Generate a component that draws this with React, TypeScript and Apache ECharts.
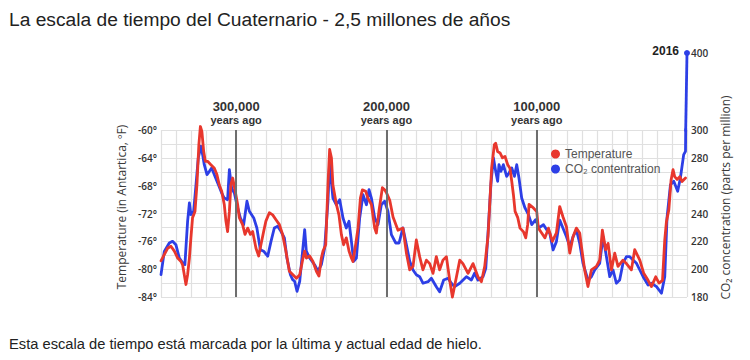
import React, { useEffect, useRef } from "react";
import * as echarts from "echarts";

const TITLE = "La escala de tiempo del Cuaternario - 2,5 millones de años";
const CAPTION = "Esta escala de tiempo está marcada por la última y actual edad de hielo.";
const TEMP_NAME = "Temperature";
const CO2_NAME = "CO₂ contentration";
const TEMP_AXIS_NAME = "Temperature (in Antartica, ºF)";
const CO2_AXIS_NAME = "CO₂ concentration (parts per million)";
const MARKER_YEARS = [300000, 200000, 100000];
const TEMP_TICKS = [-84, -80, -76, -72, -68, -64, -60];
const CO2_TICKS = [180, 200, 220, 240, 260, 280, 300];
const CO2_TOP_TICK = 400;
const LATEST_LABEL = "2016";

// thousands of years relative to present (negative = ago), temperature in °F
const tempKyr = [
  -350.0, -345.6, -343.4, -341.1, -338.9, -336.7, -335.6, -333.4, -332.3, -331.1,
  -330.1, -329.0, -327.4, -326.1, -324.8, -323.8, -322.8, -321.6, -320.5, -319.0,
  -316.8, -314.5, -312.8, -311.2, -309.6, -307.9, -306.8, -305.7, -304.5, -303.5,
  -302.3, -300.8, -299.0, -297.9, -295.7, -294.1, -292.3, -290.5, -289.0, -286.8,
  -285.0, -283.5, -281.7, -280.2, -277.9, -275.7, -273.5, -271.2, -269.1, -266.9,
  -264.6, -262.2, -259.9, -257.7, -255.5, -254.4, -253.3, -251.1, -248.9, -246.6,
  -244.9, -243.3, -242.2, -240.4, -238.9, -237.8, -236.6, -235.6, -233.3, -231.6,
  -230.0, -228.5, -226.7, -224.9, -223.3, -222.3, -220.5, -218.9, -217.3, -216.0,
  -213.8, -212.3, -210.0, -207.8, -206.7, -205.0, -202.7, -201.2, -200.0, -197.8,
  -195.6, -192.3, -189.0, -186.7, -184.5, -182.3, -180.1, -177.9, -175.7, -173.4,
  -171.2, -169.0, -166.8, -164.6, -162.4, -160.1, -157.9, -156.1, -153.4, -151.2,
  -149.1, -145.7, -142.4, -139.1, -136.8, -134.6, -132.4, -130.0, -128.2, -127.3,
  -126.0, -124.4, -122.8, -121.1, -119.3, -117.8, -116.6, -115.5, -114.4, -112.6,
  -111.1, -108.9, -107.3, -106.0, -105.1, -102.2, -100.0, -98.9, -96.7, -94.5,
  -92.2, -89.6, -86.9, -84.7, -82.5, -80.2, -78.0, -75.8, -73.6, -71.4,
  -70.2, -68.1, -65.9, -63.6, -60.3, -58.1, -56.3, -54.1, -52.5, -50.3,
  -48.1, -45.9, -42.6, -40.3, -37.0, -34.8, -31.4, -28.8, -25.9, -23.7,
  -20.8, -18.6, -16.3, -14.8, -13.7, -12.1, -10.6, -9.3, -8.2, -6.6,
  -4.8, -3.3, -1.0,
];
const tempF = [
  -78.8, -77.0, -76.7, -77.4, -78.4, -78.9, -79.4, -82.2, -80.8, -78.4,
  -75.5, -72.6, -71.7, -67.9, -62.1, -59.5, -60.2, -63.1, -64.5, -64.5,
  -65.0, -65.5, -66.4, -67.9, -68.8, -70.7, -73.1, -74.6, -71.7, -67.9,
  -66.9, -68.6, -70.7, -72.6, -73.6, -75.0, -74.1, -75.0, -74.6, -77.0,
  -78.1, -76.5, -74.6, -73.1, -71.9, -72.2, -72.9, -73.6, -75.0, -77.4,
  -80.3, -80.8, -81.3, -80.8, -78.4, -77.4, -78.4, -78.1, -78.9, -80.3,
  -81.0, -78.4, -77.4, -76.5, -67.9, -62.8, -64.0, -67.9, -70.7, -72.2,
  -75.0, -76.5, -75.5, -77.4, -78.4, -78.9, -76.5, -74.1, -69.8, -68.6,
  -68.8, -69.8, -70.7, -74.1, -74.8, -71.7, -68.3, -68.6, -69.0, -70.1,
  -72.5, -74.4, -74.1, -77.7, -80.1, -79.6, -75.8, -78.2, -80.1, -78.7,
  -79.2, -80.6, -78.2, -80.1, -78.7, -78.2, -81.6, -84.0, -81.1, -78.7,
  -79.2, -80.6, -79.2, -81.1, -81.8, -79.6, -75.3, -65.5, -62.1, -61.9,
  -63.1, -63.3, -64.0, -63.8, -65.0, -65.5, -67.4, -69.3, -71.7, -72.6,
  -74.1, -74.6, -75.5, -73.6, -70.7, -71.2, -71.7, -74.1, -74.8, -75.5,
  -74.1, -76.0, -74.8, -71.0, -72.5, -73.9, -77.7, -75.3, -74.1, -74.8,
  -76.8, -80.1, -82.5, -80.1, -79.6, -78.7, -74.4, -77.2, -76.3, -80.1,
  -77.7, -79.6, -78.7, -79.2, -80.1, -77.2, -78.7, -80.6, -81.6, -82.5,
  -81.1, -82.0, -81.6, -75.8, -73.2, -71.5, -67.2, -65.7, -66.7, -67.1,
  -66.7, -67.4, -66.9,
];

// thousands of years relative to present, CO2 in ppm
const co2Kyr = [
  -350.0, -347.8, -344.5, -342.3, -340.1, -337.8, -335.6, -334.1, -332.3, -331.1,
  -330.1, -328.3, -326.7, -325.2, -323.4, -322.3, -321.2, -319.4, -317.8, -316.3,
  -314.1, -311.8, -309.6, -307.9, -305.7, -304.5, -303.0, -301.2, -299.5, -297.2,
  -295.0, -292.8, -291.2, -288.3, -286.2, -283.9, -281.7, -279.0, -276.8, -274.6,
  -272.4, -270.2, -267.9, -266.2, -263.9, -262.4, -261.1, -259.5, -257.7, -254.4,
  -253.3, -251.1, -247.8, -245.6, -243.3, -241.1, -238.9, -237.8, -235.6, -233.3,
  -231.1, -228.9, -226.7, -224.9, -223.3, -221.8, -220.0, -217.8, -215.6, -213.3,
  -211.6, -210.0, -207.8, -205.6, -203.4, -201.2, -199.0, -196.7, -193.8, -191.6,
  -189.0, -186.7, -184.5, -182.3, -180.1, -177.9, -175.7, -172.3, -170.1, -166.8,
  -164.6, -161.9, -159.0, -156.8, -154.6, -151.2, -146.8, -143.5, -141.3, -139.1,
  -135.7, -133.9, -132.2, -130.5, -128.8, -127.3, -126.0, -125.1, -123.8, -122.2,
  -120.0, -118.4, -116.6, -114.8, -113.3, -111.8, -110.0, -107.8, -105.5, -103.3,
  -100.7, -98.5, -95.5, -92.7, -91.3, -89.1, -86.9, -84.7, -82.5, -80.2,
  -78.0, -75.8, -73.6, -71.4, -69.2, -65.9, -63.6, -61.4, -58.1, -55.9,
  -53.6, -51.4, -49.2, -47.0, -44.8, -42.6, -40.3, -38.1, -35.9, -33.6,
  -31.4, -29.2, -25.9, -23.7, -20.3, -17.0, -14.8, -13.3, -11.0, -8.8,
  -6.2, -4.4, -2.2, -1.0, 0,
];
const co2Ppm = [
  196.1, 212.8, 218.8, 220.0, 217.6, 208.0, 204.5, 203.3, 234.4, 247.6,
  239.2, 241.6, 260.7, 279.9, 288.3, 282.3, 275.1, 267.9, 270.3, 272.7,
  266.7, 260.7, 254.7, 251.1, 249.9, 271.5, 258.3, 254.7, 246.3, 236.8,
  232.0, 248.8, 241.6, 236.8, 229.6, 214.0, 212.9, 209.3, 220.0, 229.6,
  230.8, 227.2, 222.4, 208.0, 196.0, 192.5, 191.3, 184.1, 191.3, 228.4,
  212.9, 208.0, 203.2, 198.5, 203.2, 215.2, 248.8, 277.0, 251.1, 246.3,
  249.9, 236.8, 229.6, 234.4, 220.0, 205.7, 208.0, 236.8, 253.5, 246.3,
  257.1, 251.1, 236.8, 232.0, 246.3, 248.8, 241.6, 224.8, 218.8, 218.8,
  229.6, 217.6, 205.7, 199.4, 196.0, 194.6, 189.9, 191.0, 193.5, 187.4,
  183.8, 192.2, 193.5, 189.9, 187.4, 189.9, 194.6, 192.2, 197.1, 192.2,
  194.6, 200.6, 229.6, 260.7, 279.9, 270.3, 263.1, 275.1, 270.3, 275.1,
  266.7, 269.1, 272.7, 266.7, 275.1, 265.5, 251.1, 244.0, 239.2, 232.0,
  235.6, 229.6, 232.0, 227.2, 225.8, 213.8, 219.8, 235.3, 229.4, 223.3,
  216.2, 223.3, 228.2, 218.6, 204.2, 192.2, 194.6, 199.4, 204.2, 223.3,
  209.0, 194.6, 199.4, 189.9, 192.2, 204.2, 209.0, 209.0, 206.6, 204.2,
  199.4, 194.6, 188.6, 189.9, 187.4, 182.7, 194.6, 236.8, 260.7, 263.1,
  256.0, 265.5, 282.3, 284.7, 400,
];

// the modern spike, drawn on the compressed upper part of the CO2 scale
const recentKyr = [-1.0, 0];
const recentPpm = [284.7, 400];

const RED = "#e8372d";
const BLUE = "#2d3fe6";
const FONT = '"Open Sans", "DejaVu Sans", sans-serif';
const PAGE_FONT = '"Liberation Sans", Arial, sans-serif';

export default function App() {
  const ref = useRef<HTMLDivElement>(null);

  useEffect(() => {
    if (!ref.current) return;
    const chart = echarts.init(ref.current, null, { renderer: "svg" });

    const temp = tempKyr.map((k, i) => [k, tempF[i]]);
    const co2 = co2Kyr.map((k, i) => [k, co2Ppm[i]]);
    const recent = recentKyr.map((k, i) =>
      i === recentKyr.length - 1
        ? {
            value: [k, recentPpm[i]],
            symbol: "circle",
            symbolSize: 6,
            label: {
              show: true,
              position: "left",
              distance: 5,
              offset: [0, -2],
              formatter: LATEST_LABEL,
              fontFamily: PAGE_FONT,
              fontWeight: "bold",
              fontSize: 12,
              color: "#222",
            },
          }
        : { value: [k, recentPpm[i]], symbol: "none" }
    );

    const axisLabelStyle = {
      fontFamily: FONT,
      fontSize: 10,
      fontWeight: 600,
      color: "#333",
    };

    const option: any = {
      animation: false,
      backgroundColor: "#ffffff",
      title: [
        {
          text: TITLE,
          left: 4,
          top: 5,
          textStyle: { fontFamily: PAGE_FONT, fontSize: 19.2, fontWeight: "normal", color: "#222" },
        },
        {
          text: CAPTION,
          left: 4,
          top: 331,
          textStyle: { fontFamily: PAGE_FONT, fontSize: 14.7, fontWeight: "normal", color: "#222" },
        },
      ],
      legend: {
        data: [TEMP_NAME, CO2_NAME],
        orient: "vertical",
        left: 546,
        top: 143,
        icon: "circle",
        itemWidth: 9,
        itemHeight: 9,
        itemGap: 3,
        selectedMode: false,
        textStyle: { fontFamily: PAGE_FONT, fontSize: 12, color: "#555" },
      },
      grid: [
        { left: 161, right: 63, top: 130, height: 167 },
        { left: 161, right: 63, top: 53, height: 77 },
      ],
      xAxis: [
        {
          type: "value",
          gridIndex: 0,
          min: -350,
          max: 0,
          interval: 10,
          axisLine: { show: false },
          axisTick: { show: false },
          axisLabel: { show: false },
          splitLine: { show: true, lineStyle: { color: "#e0e0e0", width: 1.2 } },
        },
        { type: "value", gridIndex: 1, min: -350, max: 0, show: false },
      ],
      yAxis: [
        {
          type: "value",
          gridIndex: 0,
          position: "left",
          min: -84,
          max: -60,
          interval: 2,
          axisLine: { show: false },
          axisTick: { show: false },
          axisLabel: {
            ...axisLabelStyle,
            margin: 4,
            formatter: (v: number) => (TEMP_TICKS.includes(v) ? `${v}°` : ""),
          },
          splitLine: { show: true, lineStyle: { color: "#e0e0e0", width: 1.2 } },
          name: TEMP_AXIS_NAME,
          nameLocation: "middle",
          nameRotate: 90,
          nameGap: 24,
          nameTextStyle: {
            fontFamily: FONT,
            fontSize: 12,
            color: "#3a3a3a",
            padding: [0, 0, 0, 13],
          },
        },
        {
          type: "value",
          gridIndex: 0,
          position: "right",
          min: 180,
          max: 300,
          interval: 20,
          axisLine: { show: false },
          axisTick: { show: false },
          splitLine: { show: false },
          axisLabel: {
            ...axisLabelStyle,
            margin: 4,
            formatter: (v: number) => (CO2_TICKS.includes(v) ? String(v) : ""),
          },
          name: CO2_AXIS_NAME,
          nameLocation: "middle",
          nameRotate: 90,
          nameGap: 24,
          nameTextStyle: {
            fontFamily: FONT,
            fontSize: 12,
            color: "#3a3a3a",
            padding: [0, 0, 0, 32],
          },
        },
        {
          type: "value",
          gridIndex: 1,
          position: "right",
          min: 300,
          max: 400,
          interval: 100,
          axisLine: { show: false },
          axisTick: { show: false },
          splitLine: { show: false },
          axisLabel: {
            ...axisLabelStyle,
            margin: 4,
            formatter: (v: number) => (v === CO2_TOP_TICK ? String(v) : ""),
          },
        },
      ],
      series: [
        {
          name: CO2_NAME,
          type: "line",
          xAxisIndex: 0,
          yAxisIndex: 1,
          data: co2,
          clip: true,
          symbol: "none",
          showSymbol: false,
          lineStyle: { color: BLUE, width: 2.8, join: "round", cap: "round" },
          itemStyle: { color: BLUE },
          markLine: {
            silent: true,
            symbol: "none",
            lineStyle: { color: "#6e6e6e", width: 2, type: "solid" },
            label: {
              show: true,
              position: "end",
              distance: 4,
              formatter: (p: any) => `{a|${p.name}}\n{b|years ago}`,
              rich: {
                a: { fontFamily: PAGE_FONT, fontWeight: "bold", fontSize: 13, lineHeight: 14, color: "#333", align: "center" },
                b: { fontFamily: PAGE_FONT, fontWeight: "bold", fontSize: 11, lineHeight: 13, color: "#333", align: "center" },
              },
            },
            data: MARKER_YEARS.map((y) => ({ name: y.toLocaleString("en-US"), xAxis: -y / 1000 })),
          },
        },
        {
          name: TEMP_NAME,
          type: "line",
          xAxisIndex: 0,
          yAxisIndex: 0,
          data: temp,
          clip: false,
          symbol: "none",
          showSymbol: false,
          lineStyle: { color: RED, width: 2.8, join: "round", cap: "round" },
          itemStyle: { color: RED },
        },
        {
          name: CO2_NAME,
          type: "line",
          xAxisIndex: 1,
          yAxisIndex: 2,
          data: recent,
          clip: true,
          showSymbol: true,
          lineStyle: { color: BLUE, width: 2.8 },
          itemStyle: { color: BLUE },
        },
      ],
    };

    chart.setOption(option);
    return () => chart.dispose();
  }, []);

  return (
    <div
      ref={ref}
      style={{ position: "absolute", left: 0, top: 0, width: 750, height: 360, background: "#fff" }}
    />
  );
}
